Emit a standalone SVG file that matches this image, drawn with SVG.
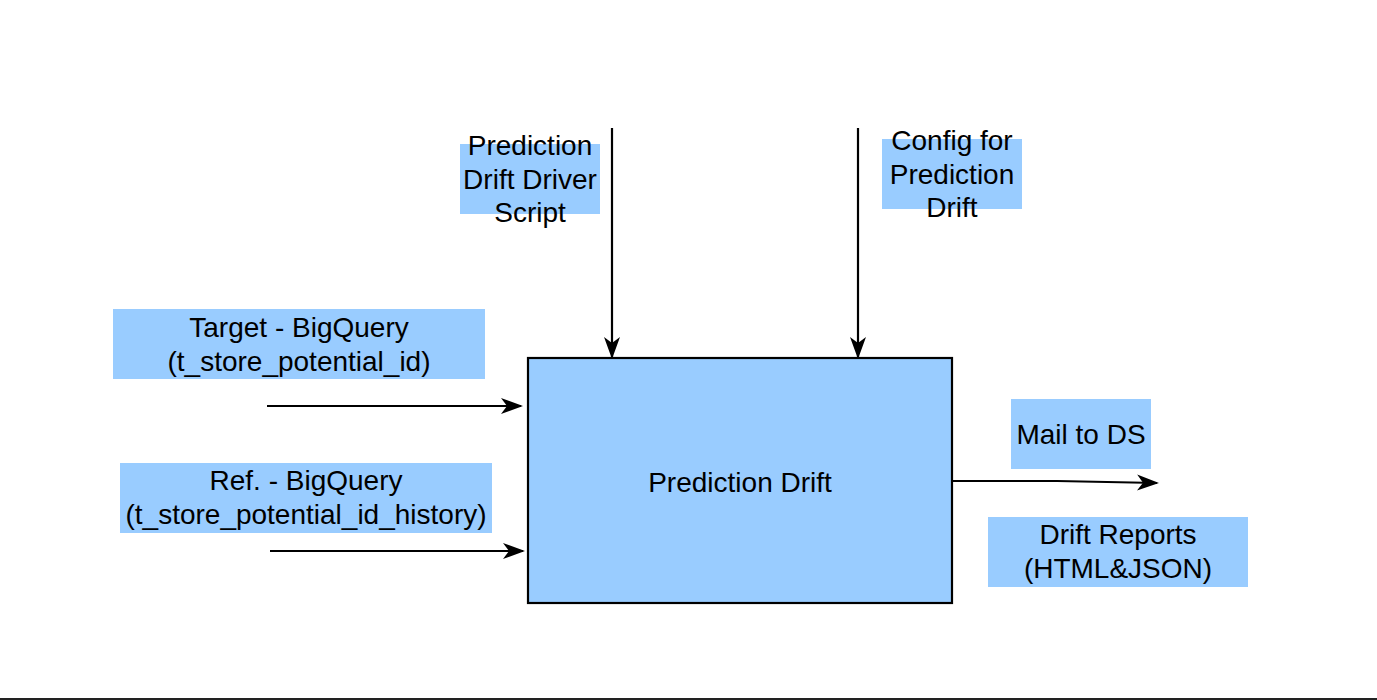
<svg xmlns="http://www.w3.org/2000/svg" width="1377" height="700" viewBox="0 0 1377 700">
<style>
.lbl{fill:#99CCFF;stroke:none}
.t{font-family:"Liberation Sans",Arial,sans-serif;font-size:28px;fill:#000;text-anchor:middle}
.c{stroke:#000;stroke-width:2.2;fill:none}
</style>
<defs>
<marker id="ah" viewBox="0 0 22 18" refX="20" refY="9" markerWidth="22" markerHeight="18" markerUnits="userSpaceOnUse" orient="auto">
<path d="M0,1 L22,9 L0,17 L6,9 Z" fill="#000"/>
</marker>
</defs>
<rect width="1377" height="700" fill="#fff"/>
<g id="main">
<rect x="528" y="358" width="424" height="245" fill="#99CCFF" stroke="#000" stroke-width="2.2"/>
<text class="t" x="740" y="492">Prediction Drift</text>
</g>
<g id="driver">
<rect class="lbl" x="460" y="144" width="140" height="70"/>
<text class="t" x="530" y="155">Prediction</text>
<text class="t" x="530" y="189">Drift Driver</text>
<text class="t" x="530" y="222">Script</text>
</g>
<g id="config">
<rect class="lbl" x="882" y="139" width="140" height="70"/>
<text class="t" x="952" y="150">Config for</text>
<text class="t" x="952" y="184">Prediction</text>
<text class="t" x="952" y="217">Drift</text>
</g>
<g id="target">
<rect class="lbl" x="113" y="309" width="372" height="70"/>
<text class="t" x="299" y="337">Target - BigQuery</text>
<text class="t" x="299" y="371">(t_store_potential_id)</text>
</g>
<g id="ref">
<rect class="lbl" x="120" y="463" width="372" height="70"/>
<text class="t" x="306" y="490">Ref. - BigQuery</text>
<text class="t" x="306" y="524">(t_store_potential_id_history)</text>
</g>
<g id="mail">
<rect class="lbl" x="1011" y="399" width="140" height="70"/>
<text class="t" x="1081" y="444">Mail to DS</text>
</g>
<g id="reports">
<rect class="lbl" x="988" y="517" width="260" height="70"/>
<text class="t" x="1118" y="544">Drift Reports</text>
<text class="t" x="1118" y="578">(HTML&amp;JSON)</text>
</g>
<g id="connectors">
<path class="c" d="M612,128 V357" marker-end="url(#ah)"/>
<path class="c" d="M858,128 V357" marker-end="url(#ah)"/>
<path class="c" d="M267,406 H521" marker-end="url(#ah)"/>
<path class="c" d="M270,551 H523" marker-end="url(#ah)"/>
<path class="c" d="M952,481 L1057,481 L1157,483" marker-end="url(#ah)"/>
</g>
<rect x="0" y="698" width="1377" height="2" fill="#222"/>
</svg>
